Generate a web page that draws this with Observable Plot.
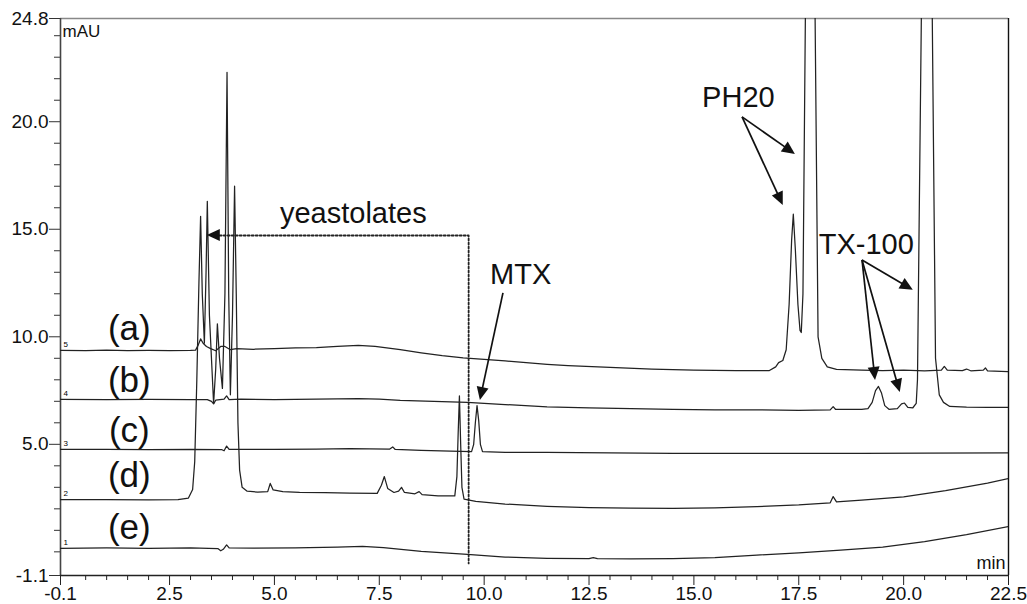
<!DOCTYPE html>
<html><head><meta charset="utf-8">
<script src="https://cdn.jsdelivr.net/npm/d3@7"></script>
<script src="https://cdn.jsdelivr.net/npm/@observablehq/plot@0.6"></script>
<style>html,body{margin:0;padding:0;background:#fff;} #chart svg{display:block;}</style>
</head><body><div id="chart"></div>
<script>
// Chromatogram traces: [time (min), signal (mAU)]
const traceA = [[-0.1,9.37],[0.5,9.36],[1.0,9.38],[1.5,9.36],[2.0,9.37],[2.5,9.36],[3.0,9.37],[3.12,9.38],[3.18,9.6],[3.24,9.9],[3.30,9.7],[3.38,9.55],[3.48,9.45],[3.60,9.35],[3.72,9.55],[3.82,9.55],[3.95,9.4],[4.1,9.45],[4.5,9.42],[5.0,9.45],[5.5,9.48],[6.0,9.5],[6.5,9.55],[7.0,9.6],[7.4,9.55],[8.0,9.4],[8.5,9.25],[9.0,9.12],[9.5,9.02],[10.0,8.95],[10.5,8.88],[11.0,8.8],[11.5,8.72],[12.0,8.66],[13.0,8.58],[14.0,8.5],[15.0,8.45],[16.0,8.43],[16.8,8.43],[16.95,8.6],[17.02,8.8],[17.12,8.9],[17.2,9.4],[17.27,11.5],[17.33,14.5],[17.37,15.7],[17.42,14.0],[17.48,11.5],[17.53,10.3],[17.56,10.2],[17.60,12],[17.77,50],[17.96,10],[18.05,9.0],[18.18,8.6],[18.4,8.48],[19.0,8.45],[19.5,8.43],[20.0,8.45],[20.5,8.42],[20.9,8.45],[20.97,8.62],[21.04,8.45],[21.4,8.43],[21.5,8.5],[21.6,8.42],[21.9,8.45],[21.95,8.55],[22.0,8.42],[22.5,8.38]];
const traceB = [[-0.1,7.09],[1,7.08],[2,7.09],[3,7.08],[3.4,7.08],[3.5,7.0],[3.55,6.88],[3.6,7.05],[3.8,7.1],[3.86,7.25],[3.92,7.08],[4.2,7.1],[5,7.08],[6,7.1],[7,7.12],[7.5,7.1],[8,7.04],[9,6.98],[9.6,6.95],[10.5,6.85],[11.5,6.74],[12.5,6.7],[13.5,6.66],[14.5,6.62],[15.5,6.6],[16.5,6.6],[17.5,6.58],[18.25,6.6],[18.32,6.75],[18.38,6.62],[19.0,6.62],[19.15,6.66],[19.25,6.95],[19.33,7.5],[19.4,7.69],[19.47,7.4],[19.55,6.8],[19.65,6.63],[19.85,6.66],[19.95,6.88],[20.02,6.92],[20.1,6.72],[20.22,6.7],[20.3,6.9],[20.33,8],[20.56,50],[20.76,9.0],[20.85,7.3],[20.95,6.95],[21.1,6.76],[21.5,6.73],[22.0,6.72],[22.5,6.72]];
const traceC = [[-0.1,4.76],[1,4.76],[2,4.75],[3,4.77],[3.75,4.75],[3.8,4.7],[3.86,4.92],[3.92,4.76],[5,4.76],[6,4.78],[6.8,4.8],[7.75,4.78],[7.82,4.88],[7.88,4.76],[8.5,4.72],[9.2,4.68],[9.7,4.66],[9.75,5.0],[9.79,6.0],[9.83,6.8],[9.87,6.1],[9.91,5.0],[9.96,4.66],[10.5,4.63],[11.5,4.62],[13,4.6],[14.5,4.58],[16,4.58],[17.5,4.58],[19,4.58],[20.5,4.59],[22.5,4.6]];
const traceD = [[-0.1,2.43],[1,2.43],[2,2.42],[2.7,2.43],[2.95,2.5],[3.05,2.9],[3.1,4.2],[3.15,8],[3.2,12.5],[3.24,15.6],[3.28,12],[3.33,9.7],[3.37,13],[3.40,16.3],[3.45,11],[3.55,6.9],[3.60,8.5],[3.64,10.6],[3.69,9.0],[3.76,7.6],[3.82,12],[3.87,22.3],[3.91,12],[3.95,7.3],[4.0,11],[4.05,17.0],[4.09,12],[4.13,6],[4.17,3.8],[4.23,3.0],[4.35,2.82],[4.6,2.78],[4.84,2.8],[4.9,3.18],[4.97,2.88],[5.2,2.8],[5.6,2.76],[6.2,2.75],[6.8,2.73],[7.45,2.72],[7.55,3.1],[7.62,3.5],[7.7,2.95],[7.85,2.76],[7.96,2.82],[8.03,3.0],[8.1,2.76],[8.35,2.7],[8.45,2.8],[8.52,2.66],[8.9,2.6],[9.3,2.6],[9.35,3.5],[9.38,5.5],[9.41,7.25],[9.44,5.0],[9.47,3.0],[9.52,2.45],[9.8,2.35],[10.5,2.22],[11.5,2.12],[12.5,2.06],[13.5,2.03],[14.5,2.02],[15.5,2.05],[16.5,2.1],[17.5,2.18],[18.25,2.28],[18.32,2.57],[18.4,2.32],[19,2.4],[20,2.56],[21,2.85],[22,3.2],[22.5,3.41]];
const traceE = [[-0.1,0.16],[1,0.18],[2,0.16],[3,0.18],[3.65,0.15],[3.72,0.05],[3.78,0.12],[3.86,0.32],[3.92,0.18],[4.5,0.17],[5.5,0.18],[6.5,0.22],[7.1,0.26],[7.6,0.2],[8.5,0.02],[9.6,-0.12],[10.5,-0.24],[11.5,-0.3],[12.5,-0.32],[12.6,-0.27],[12.7,-0.32],[13.5,-0.33],[14.5,-0.32],[15.5,-0.27],[16.5,-0.15],[17.5,-0.05],[18.5,0.08],[19.5,0.22],[20.5,0.48],[21.5,0.8],[22.5,1.18]];

const traceIds = ["a","b","c","d","e"];
const traceNums = ["5","4","3","2","1"];
const traceLabels = ["(a)","(b)","(c)","(d)","(e)"];
const labelX = [1.54,1.54,1.54,1.54,1.54];
const labelY = [10.39,7.97,5.64,3.55,1.13];

const yMajor = [-1.1,5,10,15,20,24.8];
const yMinor = [0,1,2,3,4,6,7,8,9,11,12,13,14,16,17,18,19,21,22,23,24];
const xMajor = [-0.1,2.5,5,7.5,10,12.5,15,17.5,20,22.5];
const xMinor = [0.5,1,1.5,2,3,3.5,4,4.5,5.5,6,6.5,7,8,8.5,9,9.5,10.5,11,11.5,12,13,13.5,14,14.5,15.5,16,16.5,17,18,18.5,19,19.5,20.5,21,21.5,22];

const annotations = [
  {text:"yeastolates", x:6.88, y:15.73},
  {text:"MTX", x:10.87, y:12.9},
  {text:"PH20", x:16.06, y:21.13},
  {text:"TX-100", x:19.11, y:14.3}
];
// arrows: from (x1,y1) to tip (x2,y2)
const arrows = [
  {x1:10.46,y1:12.02,x2:9.91,y2:7.04,shaft:true},
  {x1:16.16,y1:20.2,x2:17.42,y2:18.48,shaft:true},
  {x1:16.16,y1:20.2,x2:17.13,y2:16.11,shaft:true},
  {x1:19.02,y1:13.55,x2:20.23,y2:12.16,shaft:true},
  {x1:19.02,y1:13.55,x2:19.33,y2:7.97,shaft:true},
  {x1:19.02,y1:13.55,x2:19.92,y2:7.41,shaft:true},
  {x1:9.63,y1:14.71,x2:3.40,y2:14.71,shaft:false}
];
const bracket = [[3.6,14.71],[9.63,14.71],[9.63,-0.54]];

const allTraces = [traceA,traceB,traceC,traceD,traceE];
const rows = allTraces.flatMap((tr,i) => tr.map(([t,v]) => ({trace: traceIds[i], t, v})));
const starts = allTraces.map((tr,i) => ({num: traceNums[i], t: tr[0][0], v: tr[0][1]}));
const labels = traceLabels.map((s,i) => ({s, x: labelX[i], y: labelY[i]}));

function arrowHeads(list) {
  return (index, scales) => {
    const g = d3.create("svg:g");
    for (const a of list) {
      const x0 = scales.x(a.x1), y0 = scales.y(a.y1), x1 = scales.x(a.x2), y1 = scales.y(a.y2);
      const dx = x1 - x0, dy = y1 - y0, len = Math.hypot(dx, dy), ux = dx/len, uy = dy/len;
      const L = 13, W = 6;
      const bx = x1 - L*ux, by = y1 - L*uy;
      if (a.shaft) g.append("line").attr("x1", x0).attr("y1", y0).attr("x2", bx + 2*ux).attr("y2", by + 2*uy)
        .attr("stroke", "#111").attr("stroke-width", 1.7);
      g.append("path").attr("d", `M${x1},${y1}L${bx - W*uy},${by + W*ux}L${bx + W*uy},${by - W*ux}Z`).attr("fill", "#111");
    }
    return g.node();
  };
}

const fmt = d => d.toFixed(1);
const font = "'Liberation Sans', Arial, Helvetica, sans-serif";
const chart = Plot.plot({
  width: 1027, height: 604,
  marginLeft: 60, marginRight: 19, marginTop: 18, marginBottom: 29,
  style: {fontFamily: font, background: "#fff", overflow: "visible"},
  x: {domain: [-0.1, 22.5]},
  y: {domain: [-1.1, 24.8]},
  marks: [
    Plot.axisY(yMajor, {tickSize: 11, tickPadding: 1, fontSize: 19, tickFormat: fmt, stroke: "#333", fill: "#111", label: null}),
    Plot.axisY(yMinor, {tickSize: 6, tickFormat: () => "", stroke: "#333", label: null}),
    Plot.axisX(xMajor, {tickSize: 10, tickPadding: 1, fontSize: 19, tickFormat: fmt, stroke: "#222", fill: "#111", label: null}),
    Plot.axisX(xMinor, {tickSize: 5, tickFormat: () => "", stroke: "#222", label: null}),
    Plot.ruleY([24.8], {stroke: "#888", strokeWidth: 1.6}),
    Plot.ruleX([22.5], {stroke: "#111", strokeWidth: 1.4}),
    Plot.ruleX([-0.1], {stroke: "#444", strokeWidth: 1.6}),
    Plot.ruleY([-1.1], {stroke: "#222", strokeWidth: 1.6}),
    Plot.line(rows, {x: "t", y: "v", z: "trace", stroke: "#222", strokeWidth: 1.25, clip: true}),
    Plot.line(bracket, {x: d => d[0], y: d => d[1], stroke: "#222", strokeWidth: 1.8, strokeDasharray: "2,2"}),
    arrowHeads(arrows),
    Plot.text(starts, {x: "t", y: "v", text: "num", fontSize: 8, dx: 3, dy: -6, textAnchor: "start", fill: "#000"}),
    Plot.text(labels, {x: "x", y: "y", text: "s", fontSize: 35, fill: "#111"}),
    Plot.text(annotations, {x: "x", y: "y", text: "text", fontSize: 29, fill: "#111"}),
    Plot.text(["mAU"], {x: -0.1, y: 24.8, text: d => d, fontSize: 17, textAnchor: "start", dx: 2, dy: 13, fill: "#111"}),
    Plot.text(["min"], {x: 22.5, y: -1.1, text: d => d, fontSize: 18, textAnchor: "end", dx: -3, dy: -12, fill: "#111"})
  ]
});
document.getElementById("chart").appendChild(chart);
</script>
</body></html>
